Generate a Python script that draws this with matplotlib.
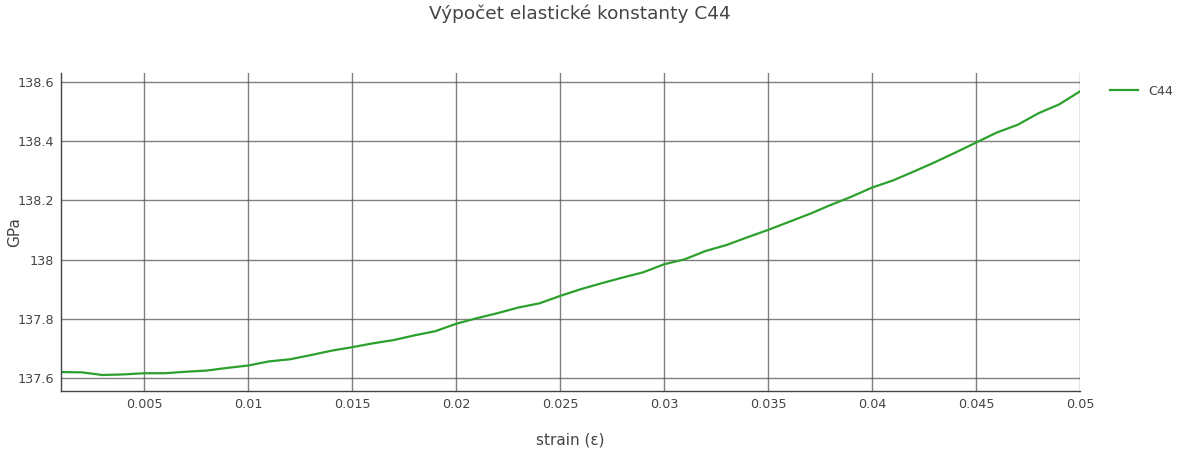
import numpy as np
from matplotlib import pyplot as plt
from matplotlib.ticker import FuncFormatter

plt.rcParams['font.family'] = ['DejaVu Sans']

strain = np.arange(1, 51) / 1000.0
c44 = [137.620, 137.619, 137.610, 137.612, 137.616, 137.616, 137.621, 137.625, 137.634, 137.642,
       137.656, 137.663, 137.677, 137.692, 137.704, 137.717, 137.728, 137.744, 137.758, 137.783,
       137.802, 137.819, 137.838, 137.852, 137.877, 137.900, 137.920, 137.939, 137.957, 137.984,
       138.001, 138.029, 138.049, 138.075, 138.100, 138.127, 138.154, 138.184, 138.212, 138.243,
       138.267, 138.297, 138.328, 138.361, 138.395, 138.429, 138.455, 138.494, 138.524, 138.568]
x_ticks = [0.005, 0.01, 0.015, 0.02, 0.025, 0.03, 0.035, 0.04, 0.045, 0.05]
y_ticks = [137.6, 137.8, 138.0, 138.2, 138.4, 138.6]

W, H = 1178, 454
fig = plt.figure(figsize=(W/100, H/100), dpi=100)
ax = fig.add_axes([61/W, 1 - 391/H, (1080-61)/W, (391-73)/H])

ax.plot(strain, c44, color="#2ca02c", lw=1.6, label="C44")
ax.set_xlim(0.001, 0.05)
ax.set_ylim(137.556, 138.630)
ax.set_xticks(x_ticks)
ax.set_yticks(y_ticks)
fmt = FuncFormatter(lambda v, p: "%g" % round(v, 4))
ax.xaxis.set_major_formatter(fmt)
ax.yaxis.set_major_formatter(fmt)
ax.grid(True, color="#555555", lw=1, alpha=0.75)
ax.tick_params(length=0, labelsize=9.2, labelcolor="#444444", pad=5)
for s in ["top", "right"]:
    ax.spines[s].set_visible(False)
for s in ["left", "bottom"]:
    ax.spines[s].set_color("#444444")
    ax.spines[s].set_linewidth(1)

# axis titles placed in figure pixels, like the reference
fig.text(570/W, 1 - 440/H, "strain (ε)", fontsize=11, color="#444444", ha="center", va="center")
fig.text(15/W, 1 - 232/H, "GPa", fontsize=11, color="#444444", ha="center", va="center", rotation=90)
fig.text(580/W, 1 - 14/H, "Výpočet elastické konstanty C44", fontsize=13.3, color="#444444",
         ha="center", va="center")

ax.legend(loc="upper left", bbox_to_anchor=(1.018, 1.0), frameon=False, fontsize=9.2,
          handlelength=2.2, labelcolor="#444444")

plt.savefig("out.png", dpi=100)
